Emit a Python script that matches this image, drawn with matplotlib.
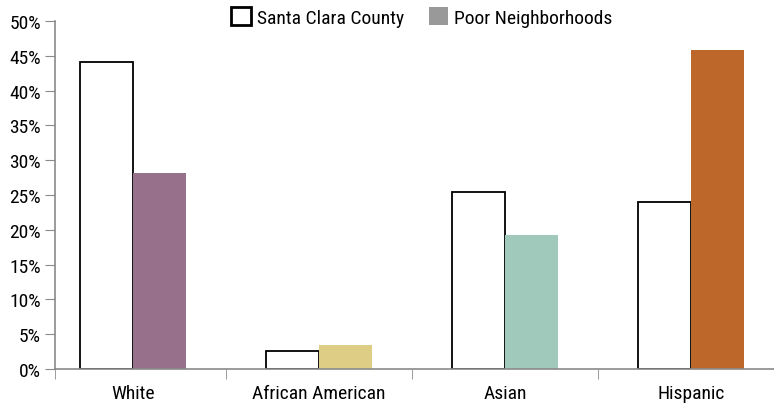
import numpy as np
import matplotlib.pyplot as plt
from matplotlib.patches import Patch

categories = ['White', 'African American', 'Asian', 'Hispanic']
county = [44.1, 2.6, 25.4, 24.0]
poor = [28.2, 3.4, 19.3, 45.8]
poor_colors = ['#97708C', '#DECD85', '#A0C9BC', '#BE672A']
yticks = [0, 5, 10, 15, 20, 25, 30, 35, 40, 45, 50]

plt.rcParams['font.family'] = ['Roboto Condensed', 'DejaVu Sans']
axis_gray = '#8a8a8a'
fs = 14

fig = plt.figure(figsize=(7.74, 4.06), dpi=100)
ax = fig.add_axes([55 / 774, 36 / 406, 719 / 774, 348 / 406])

x = np.arange(len(categories))
w = 0.287
ax.bar(x - w / 2, county, w, color='white', edgecolor='black', linewidth=1.3, zorder=2)
ax.bar(x + w / 2, poor, w, color=poor_colors, linewidth=0, zorder=2)

xlim = (-0.419, 3.446)
ax.set_yticks(yticks)
ax.set_yticklabels([f'{v}%' for v in yticks], fontsize=fs)
ax.set_xticks(x)
ax.set_xticklabels(categories, fontsize=fs)
ax.set_xticks([xlim[0], 0.5, 1.5, 2.5], minor=True)
ax.set_xlim(*xlim)
ax.set_ylim(0, 50)
ax.tick_params(axis='x', which='major', length=0, pad=11)
ax.tick_params(axis='x', which='minor', length=7, color=axis_gray)
ax.tick_params(axis='y', length=7, color=axis_gray, pad=3)

for side in ['top', 'right']:
    ax.spines[side].set_visible(False)
for side in ['left', 'bottom']:
    ax.spines[side].set_color(axis_gray)
    ax.spines[side].set_linewidth(1.2)
    ax.spines[side].set_zorder(3)

handles = [Patch(facecolor='white', edgecolor='black', linewidth=2),
           Patch(facecolor='#999999', edgecolor='none')]
fig.legend(handles, ['Santa Clara County', 'Poor Neighborhoods'],
           loc='center', bbox_to_anchor=(422 / 774, 1 - 18 / 406), ncol=2,
           frameon=False, fontsize=fs, handlelength=1.0, handleheight=1.0,
           handletextpad=0.3, columnspacing=1.3, borderaxespad=0)

fig.savefig('out.png', dpi=100)
